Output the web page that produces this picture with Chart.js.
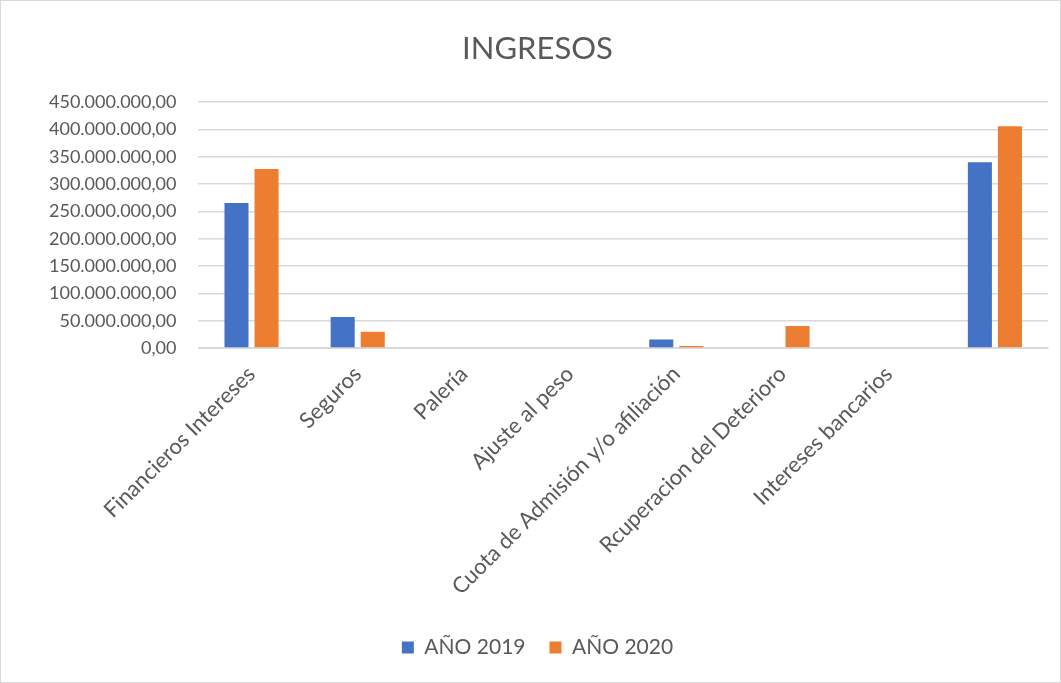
<!DOCTYPE html>
<html>
<head>
<meta charset="utf-8">
<script src="https://cdn.jsdelivr.net/npm/chart.js@4/dist/chart.umd.min.js"></script>
<style>
  html, body { margin: 0; padding: 0; background: #fff; }
  #wrap { position: absolute; left: 0; top: 0; width: 1059px; height: 681px; border: 1px solid #d9d9d9; }
  canvas { display: block; }
</style>
</head>
<body>
<div id="wrap"><canvas id="chart" width="1059" height="681"></canvas></div>
<script>
// datos
const categorias = [
  'Financieros Intereses', 'Seguros', 'Palería', 'Ajuste al peso',
  'Cuota de Admisión y/o afiliación', 'Rcuperacion del Deterioro', 'Intereses bancarios', ''
];
const anio2019 = [265500000, 57000000, 1500000, 0, 15500000, 0, 0, 340000000];
const anio2020 = [327800000, 30000000, 0, 0, 4000000, 40300000, 0, 406000000];
const ejeMax = 450000000;
const ejePaso = 50000000;

const gris = '#595959';
const fuente = 'Lato, "Open Sans", sans-serif';

function formatoNumero(v) {
  const partes = Number(v).toFixed(2).split('.');
  const entero = partes[0].replace(/\B(?=(\d{3})+$)/g, '.');
  return entero + ',' + partes[1];
}

const ctx = document.getElementById('chart').getContext('2d');
new Chart(ctx, {
  type: 'bar',
  data: {
    labels: categorias,
    datasets: [
      { label: 'AÑO 2019', data: anio2019, backgroundColor: '#4472C4', borderWidth: 0 },
      { label: 'AÑO 2020', data: anio2020, backgroundColor: '#ED7D31', borderWidth: 0 }
    ]
  },
  options: {
    responsive: false,
    animation: false,
    layout: { padding: { left: 26, right: 12, top: 0, bottom: 14 } },
    datasets: { bar: { categoryPercentage: 0.566, barPercentage: 0.8 } },
    scales: {
      x: {
        grid: { display: false, drawTicks: false },
        border: { display: true, color: '#d9d9d9' },
        ticks: {
          autoSkip: false, maxRotation: 45, minRotation: 45,
          color: gris, padding: 13,
          font: { family: fuente, size: 22 }
        }
      },
      y: {
        min: 0, max: ejeMax,
        grid: { color: '#d9d9d9', lineWidth: 1.5, drawTicks: false },
        border: { display: false },
        ticks: {
          stepSize: ejePaso, color: gris, padding: 22,
          font: { family: fuente, size: 18 },
          callback: v => formatoNumero(v)
        }
      }
    },
    plugins: {
      title: {
        display: true, text: 'INGRESOS', color: gris,
        font: { family: fuente, size: 31, weight: 'normal' },
        padding: { top: 29, bottom: 35 }
      },
      legend: {
        position: 'bottom',
        labels: {
          color: gris, boxWidth: 12, boxHeight: 12, padding: 24,
          font: { family: fuente, size: 21 }
        }
      },
      tooltip: { enabled: false }
    }
  }
});
</script>
</body>
</html>
